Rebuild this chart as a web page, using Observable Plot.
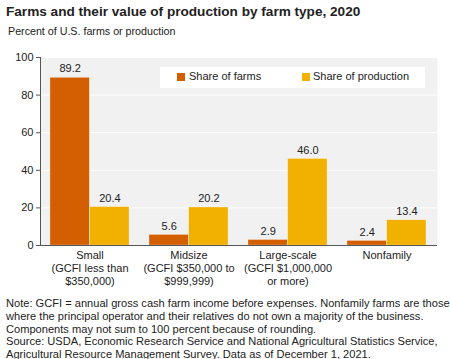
<!DOCTYPE html>
<html><head><meta charset="utf-8">
<script src="https://cdn.jsdelivr.net/npm/d3@7"></script>
<script src="https://cdn.jsdelivr.net/npm/@observablehq/plot@0.6"></script>
<style>
body{margin:0;font-family:"Liberation Sans",Arial,sans-serif;color:#222;background:#fff;}
#wrap{position:relative;width:450px;height:359px;overflow:hidden;}
#title{position:absolute;left:6px;top:4px;font-size:13.6px;font-weight:bold;white-space:nowrap;}
#sub{position:absolute;left:8px;top:25px;font-size:10.7px;white-space:nowrap;}
#chart{position:absolute;left:0;top:42px;}
#legend{position:absolute;left:160px;top:67px;width:265px;height:21px;background:#fff;font-size:11px;}
.sw{position:absolute;top:6px;width:8px;height:8px;}
.lt{position:absolute;top:3px;white-space:nowrap;}
#notes{position:absolute;left:6px;top:297px;font-size:11.1px;line-height:12.8px;white-space:nowrap;}
</style></head>
<body><div id="wrap">
<div id="title">Farms and their value of production by farm type, 2020</div>
<div id="sub">Percent of U.S. farms or production</div>
<div id="chart"></div>
<div id="legend"></div>
<div id="notes">Note: GCFI = annual gross cash farm income before expenses. Nonfamily farms are those<br>where the principal operator and their relatives do not own a majority of the business.<br>Components may not sum to 100 percent because of rounding.<br>Source: USDA, Economic Research Service and National Agricultural Statistics Service,<br>Agricultural Resource Management Survey. Data as of December 1, 2021.</div>
</div>
<script>
const categories = ["Small", "Midsize", "Large-scale", "Nonfamily"];
const categoryLabels = ["Small\n(GCFI less than\n$350,000)", "Midsize\n(GCFI $350,000 to\n$999,999)", "Large-scale\n(GCFI $1,000,000\nor more)", "Nonfamily"];
const seriesNames = ["Share of farms", "Share of production"];
const shareOfFarms = [89.2, 5.6, 2.9, 2.4];
const shareOfProduction = [20.4, 20.2, 46.0, 13.4];
const yTicks = [0, 20, 40, 60, 80, 100];
const colors = ["#d45f00", "#f2b000"];

const farms = categories.map((c, i) => ({category: c, value: shareOfFarms[i]}));
const prod = categories.map((c, i) => ({category: c, value: shareOfProduction[i]}));
const labelOf = new Map(categories.map((c, i) => [c, categoryLabels[i]]));
const half = 39.7;

const chart = Plot.plot({
  width: 450, height: 250,
  marginTop: 15, marginBottom: 47, marginLeft: 40, marginRight: 13,
  style: {fontFamily: '"Liberation Sans", Arial, sans-serif', fontSize: "11px", color: "#222", background: "transparent"},
  x: {domain: categories, paddingInner: 0.2, paddingOuter: 0.1, label: null, tickSize: 0, tickPadding: 5, tickFormat: d => labelOf.get(d)},
  y: {domain: [0, 100], ticks: yTicks, label: null, tickSize: 4, tickPadding: 3},
  marks: [
    Plot.frame({fill: "#f1f1f1", stroke: null}),
    Plot.gridY(yTicks.slice(1), {stroke: "#fff", strokeOpacity: 1, strokeWidth: 1}),
    Plot.barY(farms, {x: "category", y: "value", fill: colors[0], insetLeft: 0, insetRight: half, stroke: "#fff", strokeWidth: 0.5, strokeOpacity: 0.5}),
    Plot.barY(prod, {x: "category", y: "value", fill: colors[1], insetLeft: half, insetRight: 0, stroke: "#fff", strokeWidth: 0.5, strokeOpacity: 0.5}),
    Plot.text(farms, {x: "category", y: "value", text: d => d.value.toFixed(1), dx: -half / 2, dy: -9, fill: "#222"}),
    Plot.text(prod, {x: "category", y: "value", text: d => d.value.toFixed(1), dx: half / 2, dy: -9, fill: "#222"}),
    Plot.axisY({ticks: yTicks, tickSize: 4, tickPadding: 3, stroke: "#555"}),
    Plot.frame({anchor: "left", stroke: "#555"}),
    Plot.ruleY([0], {stroke: "#555"}),
    Plot.axisX({tickSize: 0, tickPadding: 5, tickFormat: d => labelOf.get(d), lineHeight: 1.15})
  ]
});
document.getElementById("chart").appendChild(chart);

const lg = document.getElementById("legend");
const pos = [[17, 29], [142, 153]];
seriesNames.forEach((s, i) => {
  const sw = document.createElement("div");
  sw.className = "sw"; sw.style.left = pos[i][0] + "px"; sw.style.background = colors[i];
  lg.appendChild(sw);
  const t = document.createElement("div");
  t.className = "lt"; t.style.left = pos[i][1] + "px"; t.textContent = s;
  lg.appendChild(t);
});
</script>
</body></html>
